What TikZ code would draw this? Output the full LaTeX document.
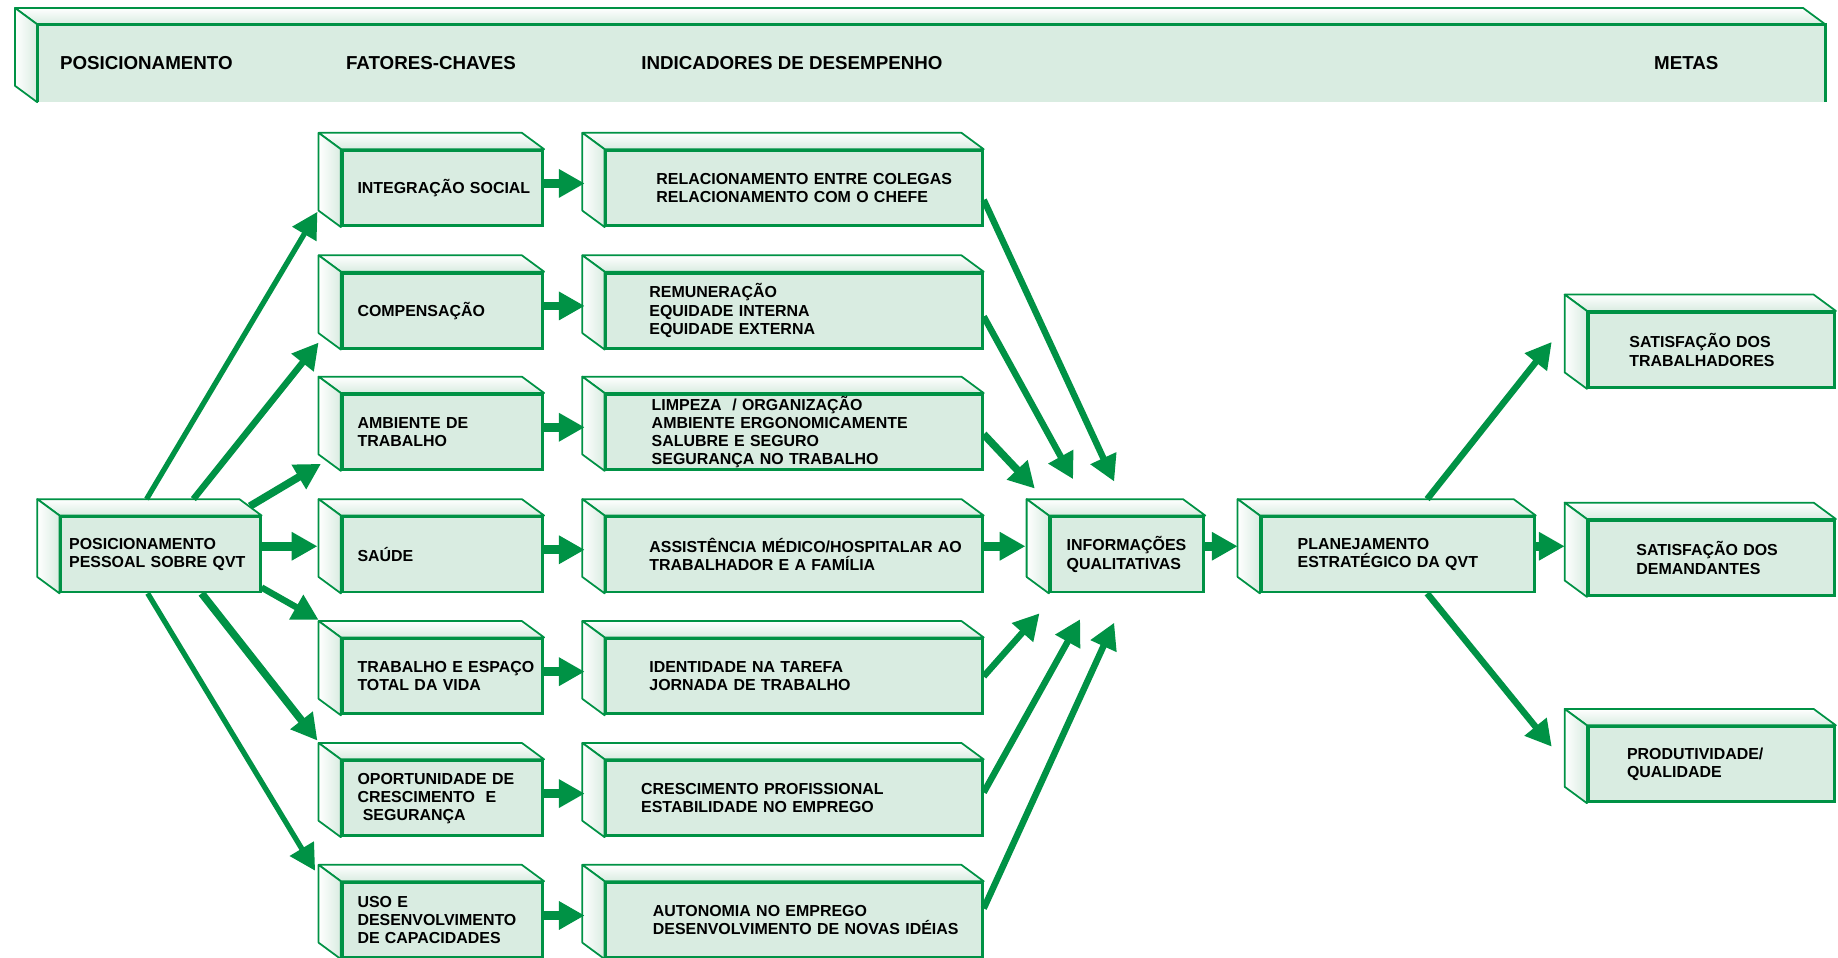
\documentclass[tikz,border=0pt]{standalone}
\usepackage{fontspec}
\setmainfont{Liberation Sans}
\usetikzlibrary{arrows.meta,backgrounds}
\definecolor{qvtgreen}{RGB}{0,146,69}
\definecolor{qvtfill}{RGB}{217,236,225}
\tikzset{
  box/.style={draw=qvtgreen, fill=qvtfill, line width=2.4pt, inner sep=0pt,
    minimum height=64pt, align=left, font=\fontsize{13.6}{15.5}\selectfont\bfseries},
  pad/.style={execute at begin node={\leftskip=#1\relax}},
  fator/.style={box, text width=171pt, pad=13pt},
  indic/.style={box, text width=321pt, pad=37pt},
  meta/.style={box, text width=210pt, pad=35pt},
  tface/.style={draw=qvtgreen, top color=white, bottom color=qvtfill, line width=1.5pt, line join=round},
  lface/.style={draw=qvtgreen, left color=white, right color=qvtfill, line width=1.5pt, line join=round},
  flow/.style={draw=qvtgreen, line width=5.5pt, -{Triangle[length=22pt,width=23pt]}},
  wide/.style={flow, line width=7.5pt},
  title/.style={anchor=west, inner sep=0pt, font=\fontsize{16}{19}\selectfont\bfseries},
}
\begin{document}
\begin{tikzpicture}[x=1pt, y=-1pt]
  \useasboundingbox (0,0) rectangle (1568,817);

  \node[fill=qvtfill, minimum width=1525pt, minimum height=66pt, inner sep=0pt] (hdr) at (794.5,54) {};
  \draw[qvtgreen, line width=2.4pt] (hdr.south west) -- (hdr.north west) -- (hdr.north east) -- (hdr.south east);
  \node[title] (tpos) at (51,54) { POSICIONAMENTO };
  \node[title] (tfat) at (295,54) { FATORES-CHAVES };
  \node[title] (tind) at (547,54) { INDICADORES DE DESEMPENHO };
  \node[title] (tmet) at (1411,54) { METAS };

  \node[box, text width=170pt, pad=7pt] (pos) at (137,473) { POSICIONAMENTO\\PESSOAL SOBRE QVT };

  \node[fator] (integ) at (377.5,160.5) { INTEGRAÇÃO SOCIAL };
  \node[fator] (comp) at (377.5,265) { COMPENSAÇÃO };
  \node[fator] (amb) at (377.5,368.5) { AMBIENTE DE\\TRABALHO };
  \node[fator] (saude) at (377.5,473) { SAÚDE };
  \node[fator] (trab) at (377.5,577) { TRABALHO E ESPAÇO\\TOTAL DA VIDA };
  \node[fator] (oport) at (377.5,681) { OPORTUNIDADE DE\\CRESCIMENTO~~E\\~SEGURANÇA };
  \node[fator] (uso) at (377.5,785) { USO E\\DESENVOLVIMENTO\\DE CAPACIDADES };

  \node[indic, pad=43pt] (relac) at (677.5,160.5) { RELACIONAMENTO ENTRE COLEGAS\\RELACIONAMENTO COM O CHEFE };
  \node[indic] (remun) at (677.5,265) { REMUNERAÇÃO\\EQUIDADE INTERNA\\EQUIDADE EXTERNA };
  \node[indic, pad=39pt] (limp) at (677.5,368.5) { LIMPEZA~~/ ORGANIZAÇÃO\\AMBIENTE ERGONOMICAMENTE\\SALUBRE E SEGURO\\SEGURANÇA NO TRABALHO };
  \node[indic] (assist) at (677.5,473) { ASSISTÊNCIA MÉDICO/HOSPITALAR AO\\TRABALHADOR E A FAMÍLIA\\[4pt] };
  \node[indic] (ident) at (677.5,577) { IDENTIDADE NA TAREFA\\JORNADA DE TRABALHO };
  \node[indic, pad=30pt] (cresc) at (677.5,681) { CRESCIMENTO PROFISSIONAL\\ESTABILIDADE NO EMPREGO };
  \node[indic, pad=40pt] (auton) at (677.5,785) { AUTONOMIA NO EMPREGO\\DESENVOLVIMENTO DE NOVAS IDÉIAS };

  \node[box, text width=131pt, pad=14pt] (info) at (961.5,473) { INFORMAÇÕES\\QUALITATIVAS };
  \node[box, text width=233pt, pad=31pt] (plan) at (1192.5,473) { PLANEJAMENTO\\ESTRATÉGICO DA QVT };

  \node[meta] (sattrab) at (1460,298.5) { SATISFAÇÃO DOS\\TRABALHADORES };
  \node[meta, pad=41pt] (satdem) at (1460,476) { SATISFAÇÃO DOS\\DEMANDANTES };
  \node[meta, pad=33pt] (prod) at (1460,652) { PRODUTIVIDADE/\\QUALIDADE };

  \begin{scope}[on background layer]
    \foreach \n in {hdr,pos,integ,comp,amb,saude,trab,oport,uso,relac,remun,limp,assist,ident,cresc,auton,info,plan,sattrab,satdem,prod} {
      \draw[tface] (\n.north west) -- ++(-19,-14) -- ([shift={(-19,-14)}]\n.north east) -- (\n.north east) -- cycle;
      \draw[lface] (\n.north west) -- ++(-19,-14) -- ([shift={(-19,-14)}]\n.south west) -- (\n.south west) -- cycle;
    }
  \end{scope}

  \draw[flow, line width=4.5pt] ([shift={(-12,-14)}]pos.north) -- ([shift={(-20,-13)}]integ.south west);
  \draw[flow] ([shift={(28,-14)}]pos.north) -- ([shift={(-19,-6)}]comp.south west);
  \draw[flow, line width=6.5pt] ([shift={(-10,-8)}]pos.north east) -- ([shift={(-17,-6)}]amb.south west);
  \draw[wide] ([shift={(0,-7)}]pos.east) -- ([shift={(-20,-7)}]saude.west);
  \draw[flow] ([shift={(0,-5)}]pos.south east) -- ([shift={(-19,-15)}]trab.north west);
  \draw[flow, line width=6.5pt] ([shift={(35,0)}]pos.south) -- ([shift={(-20,-16)}]oport.north west);
  \draw[flow, line width=4.5pt] ([shift={(-11,0)}]pos.south) -- ([shift={(-22,-9)}]uso.north west);

  \foreach \a/\b in {integ/relac, comp/remun, amb/limp, saude/assist, trab/ident, oport/cresc, uso/auton}
    \draw[wide] ([shift={(0,-4)}]\a.east) -- ([shift={(-17,-4)}]\b.west);

  \draw[flow] ([shift={(0,10)}]relac.east) -- ([shift={(-11,-29)}]info.north);
  \draw[flow] ([shift={(0,5)}]remun.east) -- ([shift={(-46,-31)}]info.north);
  \draw[flow, line width=6.5pt] ([shift={(0,2)}]limp.east) -- ([shift={(-12,-23)}]info.north west);
  \draw[wide] ([shift={(0,-7)}]assist.east) -- ([shift={(-20,-7)}]info.west);
  \draw[flow] (ident.east) -- ([shift={(-8,17)}]info.south west);
  \draw[flow] ([shift={(0,-5)}]cresc.east) -- ([shift={(-40,22)}]info.south);
  \draw[flow] ([shift={(0,-10)}]auton.east) -- ([shift={(-11,25)}]info.south);

  \draw[wide] ([shift={(0,-7)}]info.east) -- ([shift={(-19,-7)}]plan.west);

  \draw[flow] ([shift={(25,-14)}]plan.north) -- ([shift={(-30,-40)}]sattrab.south west);
  \draw[wide] ([shift={(0,-7)}]plan.east) -- ([shift={(-19,-10)}]satdem.west);
  \draw[flow] ([shift={(25,0)}]plan.south) -- ([shift={(-30,-15)}]prod.west);
\end{tikzpicture}
\end{document}
